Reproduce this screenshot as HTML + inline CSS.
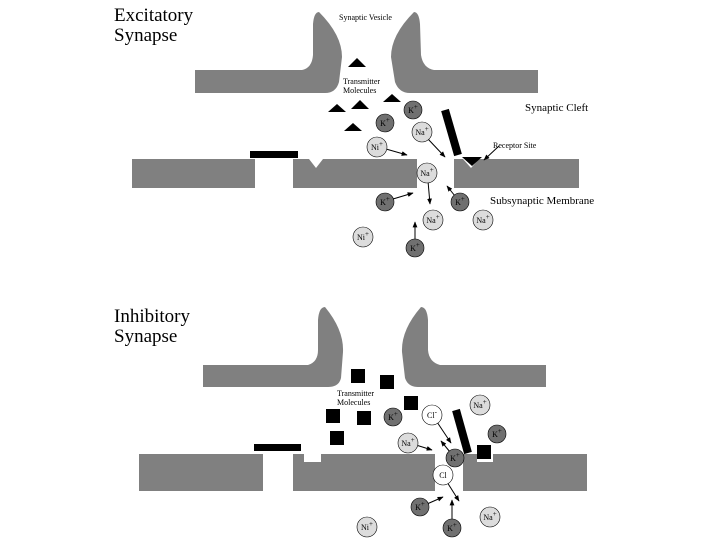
<!DOCTYPE html>
<html><head><meta charset="utf-8"><style>
html,body{margin:0;padding:0;background:#fff;width:720px;height:540px;overflow:hidden}
svg{display:block}
text{font-family:"Liberation Serif",serif;fill:#000}
.t{font-size:19px}
.s{font-size:8px}
.m{font-size:11px}
.ion text{font-size:8px}
</style></head><body>
<svg width="720" height="540" viewBox="0 0 720 540" xmlns="http://www.w3.org/2000/svg">
<defs>
<marker id="a" viewBox="0 0 10 10" refX="9" refY="5" markerWidth="6" markerHeight="6" orient="auto"><path d="M0,1 L10,5 L0,9 z" fill="#000"/></marker>
</defs>
<g fill="#808080">
<path d="M195,70 L302,70 Q312,68 313,55 L313,24 Q314,12 319,12 Q342,35 342,57 L339,82 Q336,93 325,93 L195,93 Z"/>
<path d="M538,70 L434,70 Q423,68 421,55 L420,24 Q419,12 414,12 Q391,35 391,57 L395,82 Q399,93 410,93 L538,93 Z"/>
<rect x="132" y="159" width="123" height="29"/>
<path d="M293,159 L309,159 L316,168 L323,159 L417,159 L417,188 L293,188 Z"/>
<path d="M454,159 L463,159 L471,168 L479,159 L579,159 L579,188 L454,188 Z"/>
<path d="M203,365 L308,365 Q318,362 318,350 L318,320 Q319,307 325,307 Q344,330 343,352 L341,378 Q339,387 328,387 L203,387 Z"/>
<path d="M546,365 L440,365 Q429,362 428,350 L428,320 Q427,307 421,307 Q401,330 402,352 L405,378 Q408,387 418,387 L546,387 Z"/>
<rect x="139" y="454" width="124" height="37"/>
<path d="M293,454 L304,454 L304,462 L321,462 L321,454 L435,454 L435,491 L293,491 Z"/>
<path d="M463,454 L477,454 L477,462 L493,462 L493,454 L587,454 L587,491 L463,491 Z"/>
</g>
<rect x="250" y="151" width="48" height="7"/>
<path d="M462,157 L482,157 L472,166 Z"/>
<line x1="445" y1="110" x2="458" y2="155" stroke="#000" stroke-width="8"/>
<g fill="#000">
<path d="M348,67 L366,67 L357,58 Z"/>
<path d="M328,112 L346,112 L337,104 Z"/>
<path d="M351,109 L369,109 L360,100 Z"/>
<path d="M383,102 L401,102 L392,94 Z"/>
<path d="M344,131 L362,131 L353,123 Z"/>
</g>
<rect x="254" y="444" width="47" height="7"/>
<line x1="456" y1="410" x2="468" y2="453" stroke="#000" stroke-width="8"/>
<g fill="#000">
<rect x="351" y="369" width="14" height="14"/>
<rect x="380" y="375" width="14" height="14"/>
<rect x="404" y="396" width="14" height="14"/>
<rect x="326" y="409" width="14" height="14"/>
<rect x="357" y="411" width="14" height="14"/>
<rect x="330" y="431" width="14" height="14"/>
<rect x="477" y="445" width="14" height="14"/>
</g>
<text class="t" x="114" y="21">Excitatory</text>
<text class="t" x="114" y="41">Synapse</text>
<text class="s" x="339" y="20">Synaptic Vesicle</text>
<text class="s" x="343" y="84">Transmitter</text>
<text class="s" x="343" y="93">Molecules</text>
<text class="m" x="525" y="111">Synaptic Cleft</text>
<text class="s" x="493" y="148">Receptor Site</text>
<text class="m" x="490" y="204">Subsynaptic Membrane</text>
<text class="t" x="114" y="322">Inhibitory</text>
<text class="t" x="114" y="342">Synapse</text>
<text class="s" x="337" y="396">Transmitter</text>
<text class="s" x="337" y="405">Molecules</text>
<g stroke="#000" stroke-width="1" marker-end="url(#a)" fill="none">
<line x1="386" y1="149" x2="407" y2="155"/>
<line x1="428" y1="139" x2="445" y2="157"/>
<line x1="428" y1="181" x2="430" y2="204"/>
<line x1="393" y1="199" x2="413" y2="193"/>
<line x1="455" y1="196" x2="447" y2="186"/>
<line x1="415" y1="240" x2="415" y2="222"/>
<line x1="499" y1="146" x2="484" y2="160"/>
<line x1="437" y1="422" x2="451" y2="443"/>
<line x1="416" y1="445" x2="432" y2="450"/>
<line x1="450" y1="452" x2="441" y2="441"/>
<line x1="447" y1="482" x2="459" y2="501"/>
<line x1="427" y1="504" x2="443" y2="497"/>
<line x1="452" y1="520" x2="452" y2="500"/>
</g>
<g stroke="#000" stroke-width="0.6">
<g fill="#707070">
<circle cx="413" cy="110" r="9"/><circle cx="385" cy="123" r="9"/><circle cx="385" cy="202" r="9"/><circle cx="460" cy="202" r="9"/><circle cx="415" cy="248" r="9"/>
<circle cx="393" cy="417" r="9"/><circle cx="497" cy="434" r="9"/><circle cx="455" cy="458" r="9"/><circle cx="420" cy="507" r="9"/><circle cx="452" cy="528" r="9"/>
</g>
<g fill="#dcdcdc">
<circle cx="422" cy="132" r="10"/><circle cx="377" cy="147" r="10"/><circle cx="427" cy="173" r="10"/><circle cx="433" cy="220" r="10"/><circle cx="363" cy="237" r="10"/><circle cx="483" cy="220" r="10"/>
<circle cx="480" cy="405" r="10"/><circle cx="408" cy="443" r="10"/><circle cx="490" cy="517" r="10"/><circle cx="367" cy="527" r="10"/>
</g>
<g fill="#fff">
<circle cx="432" cy="415" r="10"/><circle cx="443" cy="475" r="10"/>
</g>
</g>
<g class="ion" text-anchor="middle">
<text x="413" y="113">K<tspan dy="-4" font-size="7">+</tspan></text>
<text x="385" y="126">K<tspan dy="-4" font-size="7">+</tspan></text>
<text x="385" y="205">K<tspan dy="-4" font-size="7">+</tspan></text>
<text x="460" y="205">K<tspan dy="-4" font-size="7">+</tspan></text>
<text x="415" y="251">K<tspan dy="-4" font-size="7">+</tspan></text>
<text x="422" y="135">Na<tspan dy="-4" font-size="7">+</tspan></text>
<text x="377" y="150">Ni<tspan dy="-4" font-size="7">+</tspan></text>
<text x="427" y="176">Na<tspan dy="-4" font-size="7">+</tspan></text>
<text x="433" y="223">Na<tspan dy="-4" font-size="7">+</tspan></text>
<text x="363" y="240">Ni<tspan dy="-4" font-size="7">+</tspan></text>
<text x="483" y="223">Na<tspan dy="-4" font-size="7">+</tspan></text>
<text x="393" y="420">K<tspan dy="-4" font-size="7">+</tspan></text>
<text x="497" y="437">K<tspan dy="-4" font-size="7">+</tspan></text>
<text x="455" y="461">K<tspan dy="-4" font-size="7">+</tspan></text>
<text x="420" y="510">K<tspan dy="-4" font-size="7">+</tspan></text>
<text x="452" y="531">K<tspan dy="-4" font-size="7">+</tspan></text>
<text x="480" y="408">Na<tspan dy="-4" font-size="7">+</tspan></text>
<text x="408" y="446">Na<tspan dy="-4" font-size="7">+</tspan></text>
<text x="490" y="520">Na<tspan dy="-4" font-size="7">+</tspan></text>
<text x="367" y="530">Ni<tspan dy="-4" font-size="7">+</tspan></text>
<text x="432" y="418">Cl<tspan dy="-4" font-size="7">-</tspan></text>
<text x="443" y="478">Cl</text>
</g>
</svg>
</body></html>
